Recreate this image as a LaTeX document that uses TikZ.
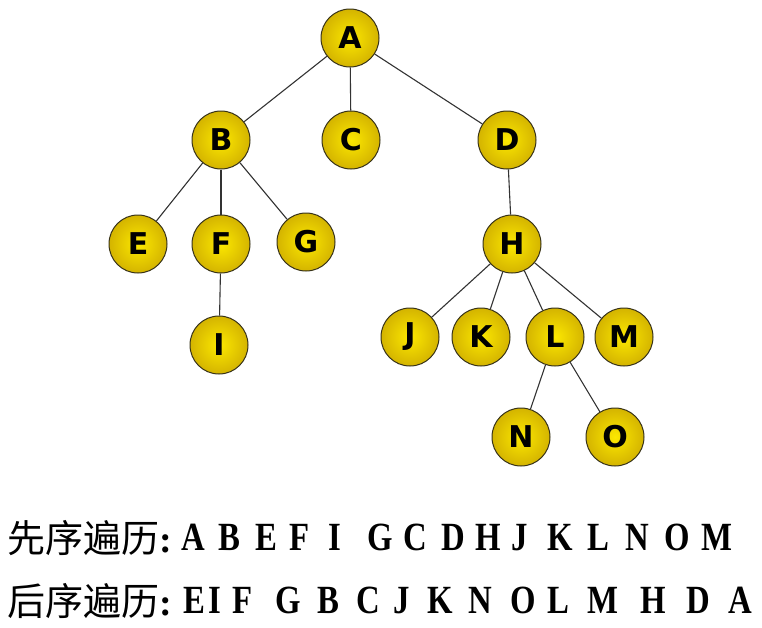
\documentclass[tikz,border=0pt]{standalone}
\usepackage{fontspec}
\setmainfont{Liberation Serif}
\newfontfamily\cjk{Noto Sans CJK SC}
\newfontfamily\treefont{DejaVu Sans}
\newfontfamily\seqfont[FakeStretch=0.82]{Liberation Serif}
\usepackage{tikz}
\usetikzlibrary{shadings}

\definecolor{ballin}{RGB}{252,232,0}
\definecolor{ballout}{RGB}{212,180,0}
\definecolor{balledge}{RGB}{55,50,25}

\tikzset{
  ball/.style={circle,minimum size=58pt,inner sep=0pt,draw=balledge,line width=1pt,
    inner color=ballin,outer color=ballout,
    font=\treefont\fontsize{30}{30}\selectfont\bfseries},
  branch/.style={draw=black!80,line width=1.1pt},
  seqletter/.style={anchor=base,inner sep=0pt,font=\seqfont\fontsize{40}{40}\selectfont\bfseries},
  seqlabel/.style={anchor=base west,inner sep=0pt,font=\fontsize{38}{38}\selectfont}
}

\begin{document}
\begin{tikzpicture}[x=1pt,y=-1pt]
\useasboundingbox (0,0) rectangle (762,627);

\node[ball] (nA) at (350,38) {A};
\node[ball] (nB) at (221,140) {B};
\node[ball] (nC) at (351,140) {C};
\node[ball] (nD) at (507,140) {D};
\node[ball] (nE) at (138,244) {E};
\node[ball] (nF) at (221,244) {F};
\node[ball] (nG) at (306,242) {G};
\node[ball] (nI) at (219,345) {I};
\node[ball] (nH) at (512,244) {H};
\node[ball] (nJ) at (410,337) {J};
\node[ball] (nK) at (481,337) {K};
\node[ball] (nL) at (555,337) {L};
\node[ball] (nM) at (624,337) {M};
\node[ball] (nN) at (521,437) {N};
\node[ball] (nO) at (615,437) {O};

\path[branch] (nA) -- (nB);
\path[branch] (nA) -- (nC);
\path[branch] (nA) -- (nD);
\path[branch] (nB) -- (nE);
\path[branch] (nB) -- (nF);
\path[branch] (nB) -- (nG);
\path[branch] (nF) -- (nI);
\path[branch] (nD) -- (nH);
\path[branch] (nH) -- (nJ);
\path[branch] (nH) -- (nK);
\path[branch] (nH) -- (nL);
\path[branch] (nH) -- (nM);
\path[branch] (nL) -- (nN);
\path[branch] (nL) -- (nO);

% traversal orders
\node[seqlabel] (pre) at (7,552) {{\cjk 先序遍历}\textbf{:}};
\node[seqlabel] (post) at (7,615) {{\cjk 后序遍历}\textbf{:}};

\foreach \x/\t [count=\i] in {193/A,229/B,266/E,300/F,335/I,380/G,415/C,453/D,488/H,520/J,560/K,598/L,637/N,677/O,717/M}
  \node[seqletter] (pre\i) at (\x,550) {\t};
\foreach \x/\t [count=\i] in {194/E,215/I,243/F,288/G,328/B,368/C,402/J,440/K,480/N,523/O,558/L,603/M,653/H,698/D,740/A}
  \node[seqletter] (post\i) at (\x,613) {\t};
\end{tikzpicture}
\end{document}
